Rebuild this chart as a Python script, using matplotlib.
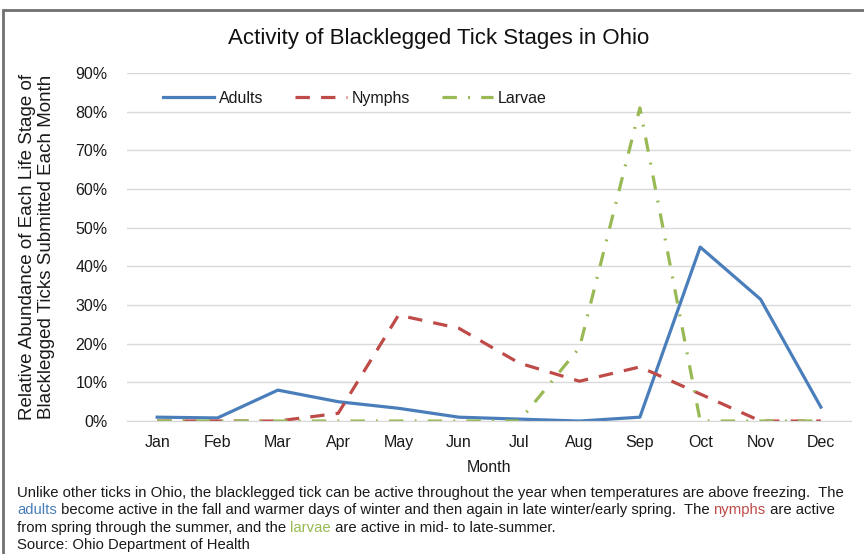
import matplotlib.pyplot as plt
from matplotlib.patches import Rectangle
from matplotlib.ticker import PercentFormatter

plt.rcParams['font.family'] = ['Liberation Sans', 'DejaVu Sans']

months = ["Jan", "Feb", "Mar", "Apr", "May", "Jun",
          "Jul", "Aug", "Sep", "Oct", "Nov", "Dec"]
adults = [1.0, 0.8, 8.0, 5.0, 3.3, 1.0, 0.5, 0.0, 1.0, 45.0, 31.5, 3.6]
nymphs = [0.0, 0.0, 0.0, 2.0, 27.4, 24.0, 15.0, 10.3, 14.0, 7.0, 0.0, 0.0]
larvae = [0.0, 0.0, 0.0, 0.0, 0.0, 0.0, 0.0, 19.0, 81.0, 0.0, 0.0, 0.0]

BLUE = "#4a7ebb"
RED = "#be4b48"
GREEN = "#98b954"
TXT = "#1a1a1a"

fig = plt.figure(figsize=(8.64, 5.54), dpi=100)
ax = fig.add_axes([0.147, 0.240, 0.838, 0.628])

x = range(len(months))
ax.plot(x, adults, color=BLUE, lw=2.3, label="Adults")
ax.plot(x, nymphs, color=RED, lw=2.3, dashes=(4.5, 3.5), label="Nymphs")
ax.plot(x, larvae, color=GREEN, lw=2.3, dashes=(4.5, 3.5, 0.6, 3.5), label="Larvae")

ax.set_xlim(-0.5, 11.5)
ax.set_ylim(0, 90)
ax.set_yticks(range(0, 91, 10))
ax.yaxis.set_major_formatter(PercentFormatter(decimals=0))
ax.set_xticks(list(x))
ax.set_xticklabels(months)
ax.grid(axis="y", color="#d9d9d9", lw=1)
ax.set_axisbelow(True)
for s in ["top", "right", "left"]:
    ax.spines[s].set_visible(False)
ax.spines["bottom"].set_color("#d9d9d9")
ax.tick_params(axis="y", length=0, labelsize=11.5, colors=TXT, pad=14)
ax.tick_params(axis="x", length=0, labelsize=11.5, colors=TXT, pad=10)

ax.set_xlabel("Month", fontsize=11.5, color=TXT, labelpad=7)
ax.set_ylabel("Relative Abundance of Each Life Stage of\nBlacklegged Ticks Submitted Each Month",
              fontsize=13.5, color=TXT, linespacing=1.15)
ax.yaxis.set_label_coords(-0.099, 0.5)
fig.text(0.508, 0.931, "Activity of Blacklegged Tick Stages in Ohio",
         ha="center", va="center", fontsize=16, color="#111111")

ax.legend(loc="upper left", bbox_to_anchor=(0.03, 0.99), ncol=3, frameon=False,
          fontsize=11.5, handlelength=3.2, columnspacing=2.0, handletextpad=0.3,
          labelcolor=TXT)

# outer frame like the original screenshot
fig.add_artist(Rectangle((0.004, -0.05), 1.1, 1.032, transform=fig.transFigure,
                         fill=False, edgecolor="#707070", lw=2))

# footnote with coloured words
lines = [
    [("Unlike other ticks in Ohio, the blacklegged tick can be active throughout the year when temperatures are above freezing.  The", TXT)],
    [("adults", BLUE), (" become active in the fall and warmer days of winter and then again in late winter/early spring.  The ", TXT),
     ("nymphs", RED), (" are active", TXT)],
    [("from spring through the summer, and the ", TXT), ("larvae", GREEN), (" are active in mid- to late-summer.", TXT)],
    [("Source: Ohio Department of Health", TXT)],
]
fig.canvas.draw()
renderer = fig.canvas.get_renderer()
y0 = 1 - 493 / 554
dy = 17.3 / 554
for i, parts in enumerate(lines):
    xp = 17 / 864
    for txt, col in parts:
        t = fig.text(xp, y0 - i * dy, txt, fontsize=10.7, color=col, va="center", ha="left")
        bb = t.get_window_extent(renderer)
        xp += bb.width / fig.bbox.width

fig.savefig("out.png", dpi=100)
